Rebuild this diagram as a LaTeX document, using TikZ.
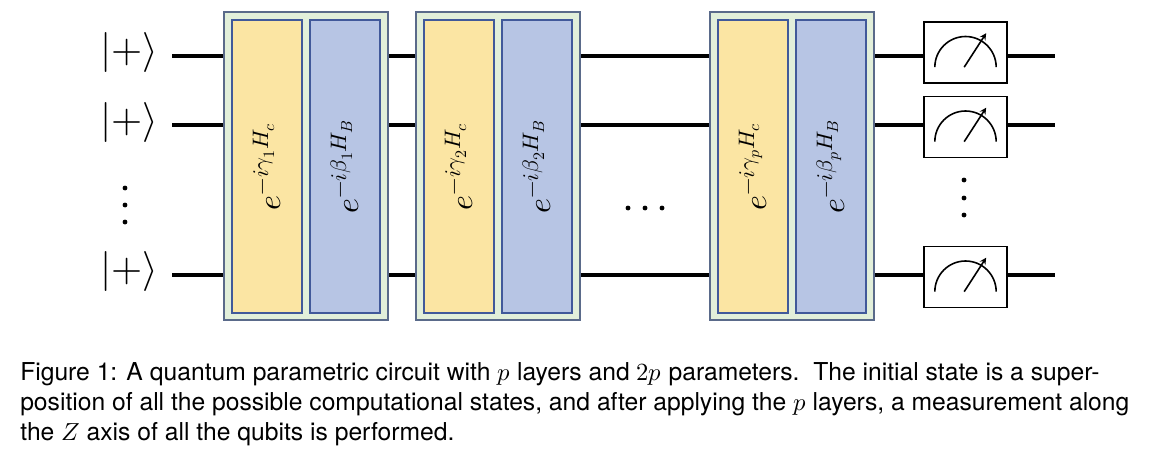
\documentclass[tikz,border=0pt]{standalone}
\usepackage{fontspec}
\setmainfont{TeX Gyre Heros}
\usepackage{unicode-math}
\setmathfont{Latin Modern Math}
\definecolor{outB}{HTML}{5A6A8A}
\definecolor{outF}{HTML}{E2EFDA}
\definecolor{gB}{HTML}{41599A}
\definecolor{yF}{HTML}{FBE5A3}
\definecolor{bF}{HTML}{B7C5E4}
\begin{document}
\begin{tikzpicture}[x=0.75pt,y=-0.75pt,
  wire/.style={line width=2.9pt},
  outer/.style={draw=outB,fill=outF,line width=0.9pt},
  ygate/.style={draw=gB,fill=yF,line width=0.8pt},
  bgate/.style={draw=gB,fill=bF,line width=0.8pt},
  meter/.style={draw=black,fill=white,line width=1pt,minimum width=62.25pt,minimum height=45.75pt},
  glab/.style={rotate=90,font=\fontsize{24}{24}\selectfont},
  ket/.style={font=\fontsize{30}{30}\selectfont},
  dot/.style={circle,fill=black,inner sep=1.3pt}]
\useasboundingbox (0,0) rectangle (1162,454);
% wires
\foreach \y/\n in {56/a,125/b,275/c}{
  \coordinate (s\n) at (172,\y); \coordinate (e\n) at (1055,\y);
  \draw[wire] (s\n) -- (e\n);}
% layers
\foreach \x/\i/\g/\b in {224/L1/{\gamma_1}/{\beta_1},416/L2/{\gamma_2}/{\beta_2},710/L3/{\gamma_p}/{\beta_p}}{
  \draw[outer] (\x,12) rectangle (\x+164,320);
  \draw[ygate] (\x+8,20) rectangle node[glab]{$e^{-i\g H_c}$} (\x+78,313);
  \draw[bgate] (\x+86,20) rectangle node[glab]{$e^{-i\b H_B}$} (\x+156,313);
}
% meters
\foreach \y/\n in {52.5/m1,127/m2,277/m3}{
  \node[meter] (\n) at (965.5,\y) {};
  \draw[line width=1.2pt] ([xshift=-23pt,yshift=-11pt]\n.center) arc[start angle=180,end angle=0,radius=23pt];
  \draw[line width=1.2pt,-stealth] ([xshift=-1pt,yshift=-11pt]\n.center) -- ([xshift=15.5pt,yshift=14.5pt]\n.center);
}
% kets
\node[ket] (k1) at (129,52) {$|{+}\rangle$};
\node[ket] (k2) at (129,122) {$|{+}\rangle$};
\node[ket] (k3) at (129,271) {$|{+}\rangle$};
\foreach \y in {188,205,222} \node[dot] at (125,\y) {};
\foreach \x in {628,645,662} \node[dot] at (\x,208) {};
\foreach \y in {180,198,215} \node[dot] at (964,\y) {};
% caption
\node[anchor=north west,align=left,inner sep=0pt,font=\fontsize{18.5}{22.5}\selectfont] (cap) at (20,362)
{Figure 1: A quantum parametric circuit with $p$ layers and $2p$ parameters.\ \ The initial state is a super-\\
position of all the possible computational states, and after applying the $p$ layers, a measurement along\\
the $Z$ axis of all the qubits is performed.};
\end{tikzpicture}
\end{document}
